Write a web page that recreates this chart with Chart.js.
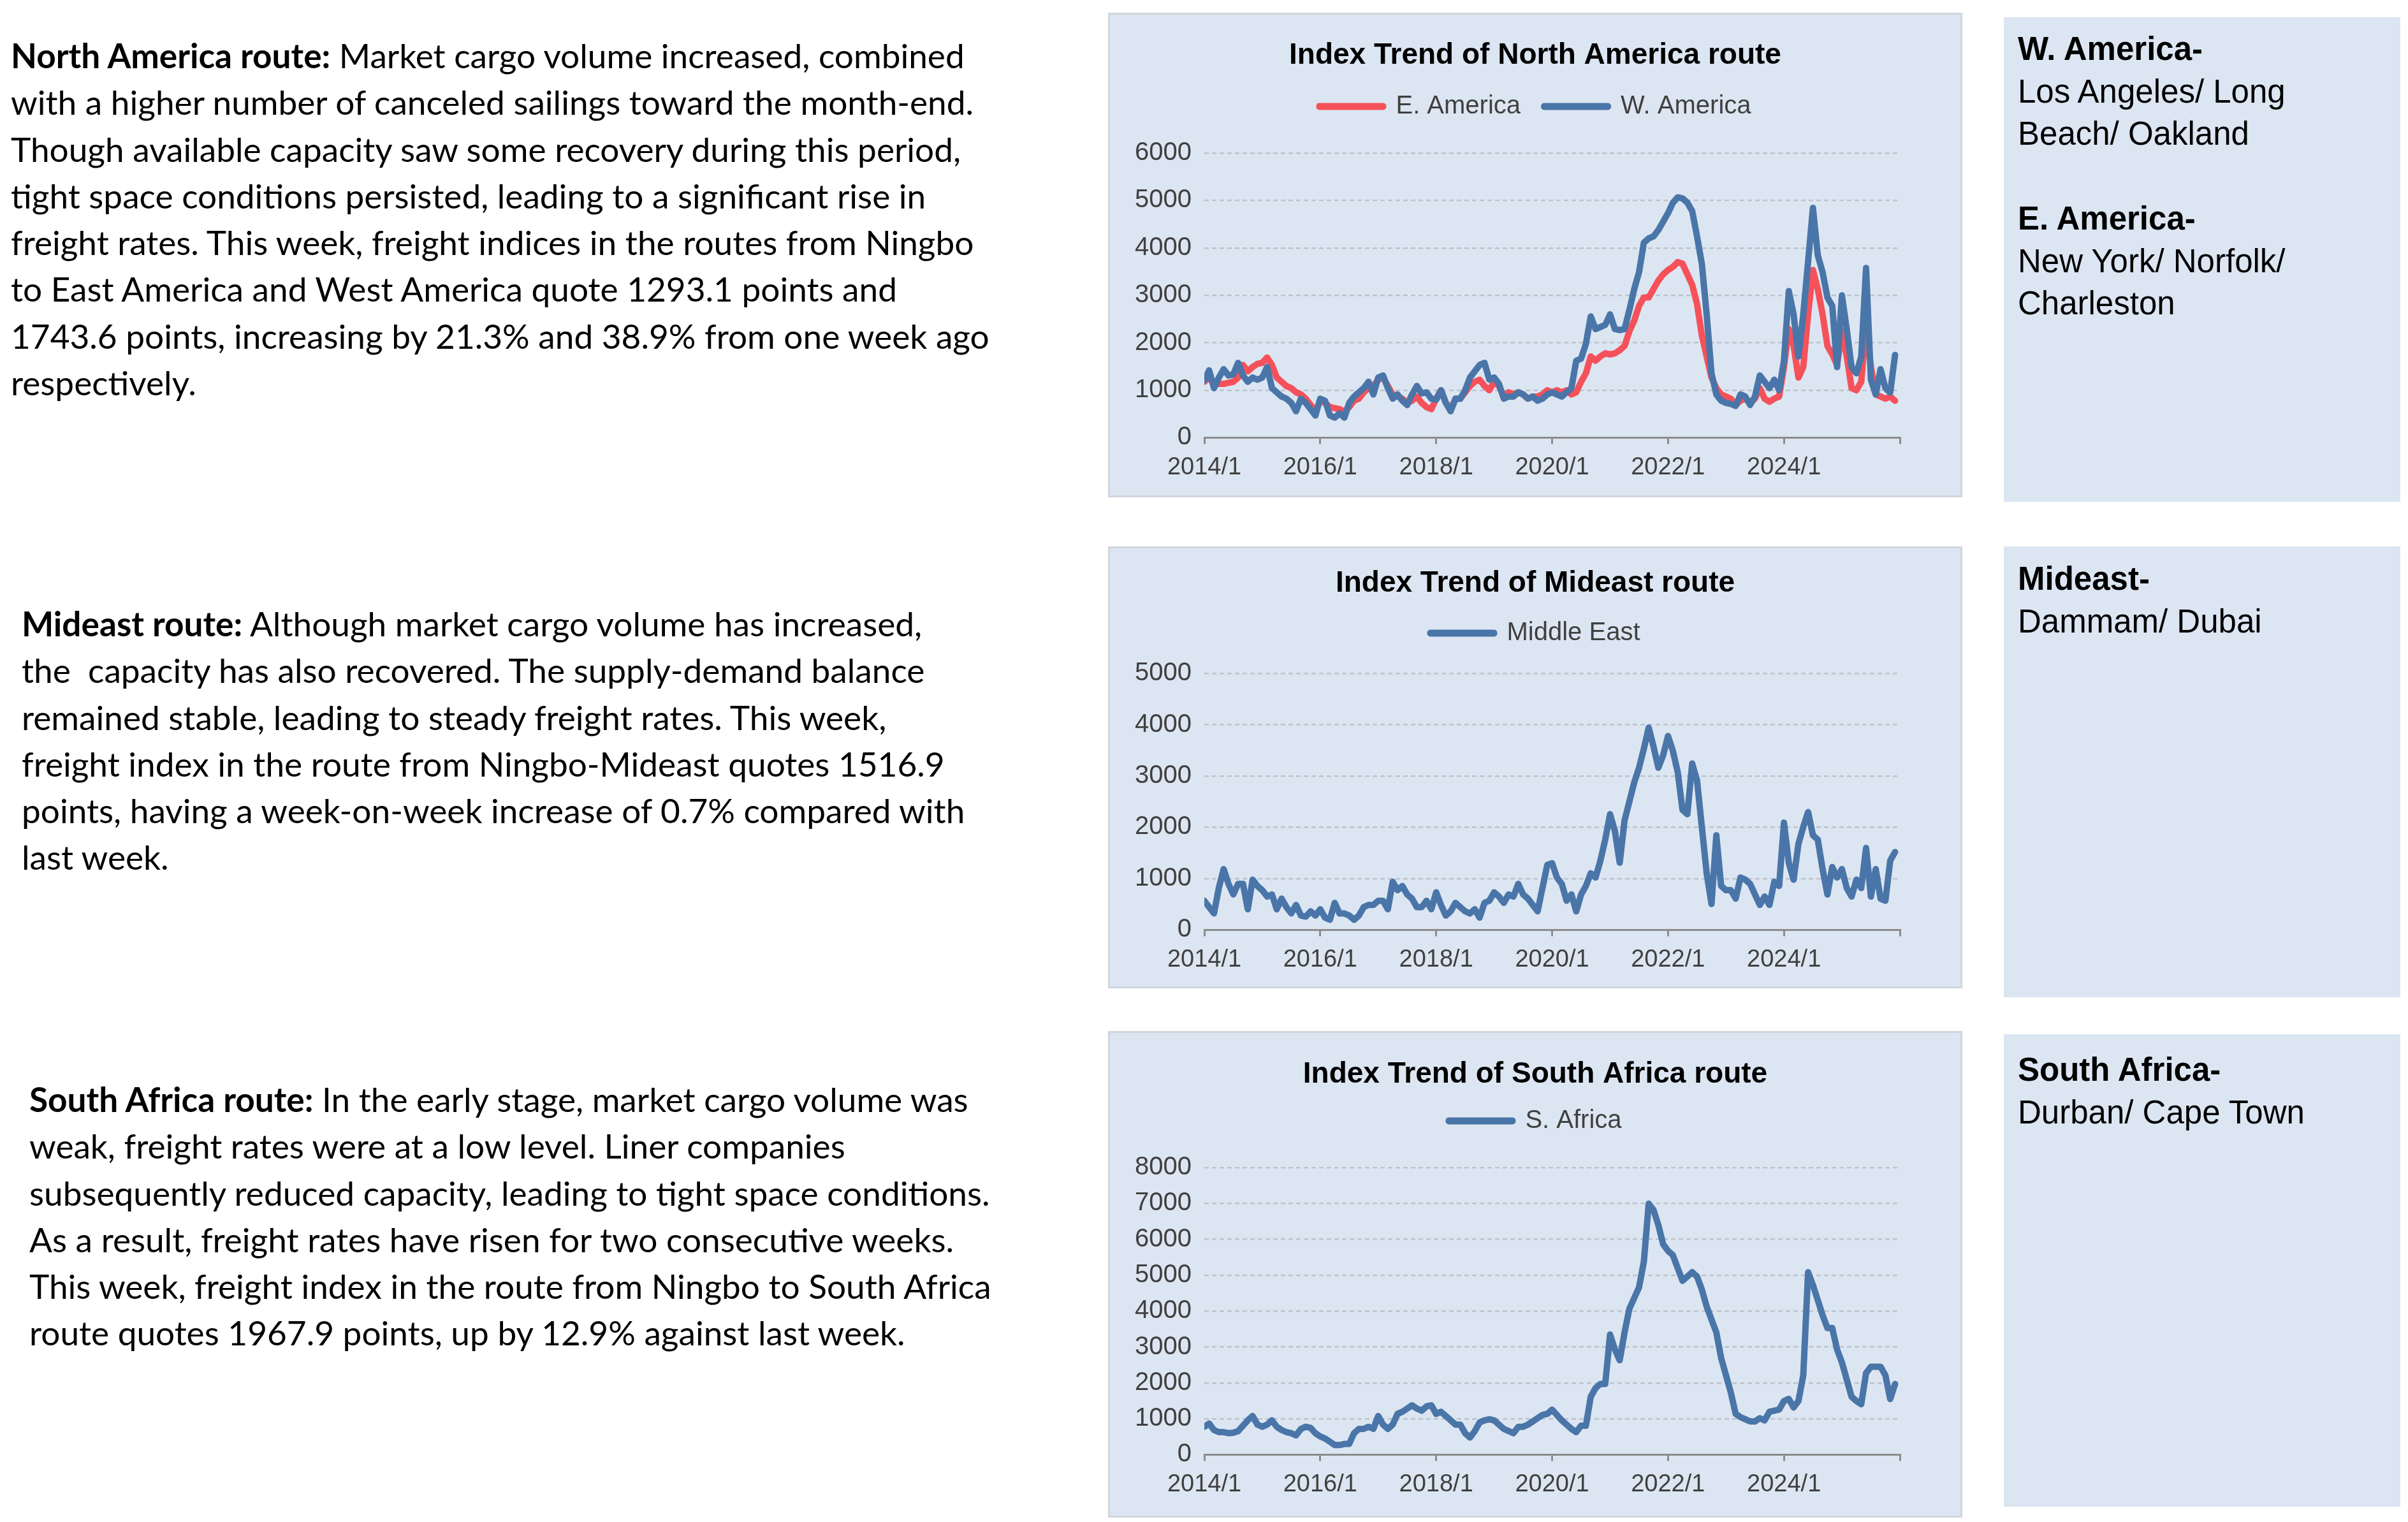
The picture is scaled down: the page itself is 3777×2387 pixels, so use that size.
<!DOCTYPE html>
<html>
<head>
<meta charset="utf-8">
<title>Index Trend of North America, Mideast and South Africa routes</title>
<script src="https://cdn.jsdelivr.net/npm/chart.js@4.4.1/dist/chart.umd.min.js"></script>
<style>
    body {
        margin: 0;
        width: 3777px;
        height: 2387px;
        background: #ffffff;
        position: relative;
        overflow: hidden;
        font-family: Lato, "Noto Sans", sans-serif;
    }
    .note {
        position: absolute;
        white-space: nowrap;
        color: #000;
        font-size: 50px;
        line-height: 73.3px;
    }
    .panel {
        position: absolute;
        left: 1738px;
        width: 1340px;
        background: #dce6f2;
        border: 3px solid #cfd6de;
        box-sizing: border-box;
    }
    .panel .box {
        position: absolute;
        left: 0; top: 0; right: 0; bottom: 0;
    }
    .side {
        position: absolute;
        left: 3143px;
        width: 622px;
        background: #dce6f2;
        box-sizing: border-box;
        padding-left: 22px;
        font-family: "Liberation Sans", Arial, sans-serif;
        font-size: 51px;
        line-height: 66.5px;
        color: #000;
    }
</style>
</head>
<body>
    <div class="note" style="left:17px; top:50px;">
        <span id="fitLine"><b>North America route:</b> Market cargo volume increased, combined</span><br>
        with a higher number of canceled sailings toward the month-end.<br>
        Though available capacity saw some recovery during this period,<br>
        tight space conditions persisted, leading to a significant rise in<br>
        freight rates. This week, freight indices in the routes from Ningbo<br>
        to East America and West America quote 1293.1 points and<br>
        1743.6 points, increasing by 21.3% and 38.9% from one week ago<br>
        respectively.
    </div>
    <div class="note" style="left:34px; top:941px;">
        <b>Mideast route:</b> Although market cargo volume has increased,<br>
        the&nbsp; capacity has also recovered. The supply-demand balance<br>
        remained stable, leading to steady freight rates. This week,<br>
        freight index in the route from Ningbo-Mideast quotes 1516.9<br>
        points, having a week-on-week increase of 0.7% compared with<br>
        last week.
    </div>
    <div class="note" style="left:46px; top:1687px;">
        <b>South Africa route:</b> In the early stage, market cargo volume was<br>
        weak, freight rates were at a low level. Liner companies<br>
        subsequently reduced capacity, leading to tight space conditions.<br>
        As a result, freight rates have risen for two consecutive weeks.<br>
        This week, freight index in the route from Ningbo to South Africa<br>
        route quotes 1967.9 points, up by 12.9% against last week.
    </div>

    <div class="panel" style="top:20px; height:760px;"><div class="box"><canvas id="naChart"></canvas></div></div>
    <div class="panel" style="top:857px; height:693px;"><div class="box"><canvas id="meChart"></canvas></div></div>
    <div class="panel" style="top:1617px; height:763px;"><div class="box"><canvas id="saChart"></canvas></div></div>

    <div class="side" style="top:27px; height:760px; padding-top:17px;">
        <b>W. America-</b><br>Los Angeles/ Long<br>Beach/ Oakland<br><br>
        <b>E. America-</b><br>New York/ Norfolk/<br>Charleston
    </div>
    <div class="side" style="top:857px; height:707px; padding-top:18px;">
        <b>Mideast-</b><br>Dammam/ Dubai
    </div>
    <div class="side" style="top:1622px; height:741px; padding-top:23px;">
        <b>South Africa-</b><br>Durban/ Cape Town
    </div>

<script>
    // monthly readings, 2014/1 .. 2025/12
    const months = [];
    for (let y = 2014; y <= 2025; y++) {
        for (let m = 1; m <= 12; m++) months.push(y + '/' + m);
    }
    const xTickLabels = ['2014/1', '2016/1', '2018/1', '2020/1', '2022/1', '2024/1', ''];

    const wAmerica = [
        1200, 1420, 1044, 1267, 1444, 1311, 1333, 1578, 1311, 1178, 1267, 1222,
        1267, 1489, 1044, 956, 867, 822, 733, 556, 822, 733, 600, 467,
        822, 778, 467, 422, 511, 422, 733, 867, 956, 1044, 1178, 911,
        1267, 1311, 1044, 822, 911, 778, 689, 911, 1089, 933, 956, 822,
        800, 1000, 733, 556, 822, 822, 1000, 1267, 1400, 1533, 1578, 1222,
        1267, 1133, 822, 867, 867, 956, 911, 822, 867, 778, 822, 911,
        956, 911, 867, 956, 1044, 1622, 1667, 1978, 2556, 2289, 2333, 2378,
        2600, 2289, 2267, 2289, 2689, 3133, 3489, 4111, 4200, 4244, 4378, 4556,
        4733, 4950, 5067, 5044, 4956, 4778, 4244, 3667, 2600, 1356, 911, 778,
        733, 711, 667, 911, 867, 689, 867, 1311, 1178, 1044, 1222, 1000,
        1622, 3089, 2600, 1711, 2600, 3711, 4844, 3844, 3489, 2956, 2778, 1489,
        3000, 2289, 1489, 1356, 1711, 3578, 1222, 911, 1444, 1044, 950, 1744
    ];
    const eAmerica = [
        1178, 1267, 1133, 1133, 1133, 1156, 1178, 1267, 1533, 1400, 1489, 1556,
        1578, 1689, 1533, 1267, 1178, 1089, 1044, 956, 911, 822, 689, 556,
        778, 733, 644, 622, 600, 556, 644, 778, 822, 956, 1044, 1089,
        1222, 1267, 1089, 911, 867, 822, 733, 778, 867, 733, 644, 600,
        822, 1000, 733, 600, 822, 822, 956, 1089, 1178, 1222, 1089, 1000,
        1178, 1089, 867, 956, 911, 956, 911, 822, 867, 867, 911, 1000,
        956, 1000, 956, 1000, 911, 956, 1178, 1356, 1711, 1622, 1711, 1778,
        1756, 1778, 1844, 1933, 2244, 2467, 2778, 2956, 2956, 3133, 3311, 3444,
        3533, 3600, 3700, 3667, 3444, 3222, 2822, 2156, 1711, 1267, 1044, 911,
        867, 822, 689, 778, 822, 733, 822, 1044, 822, 756, 822, 867,
        1489, 2289, 1933, 1267, 1489, 2600, 3533, 3133, 2600, 1933, 1756, 1533,
        2244, 1711, 1044, 1000, 1178, 2378, 1489, 911, 867, 822, 867, 778
    ];
    const middleEast = [
        568, 444, 321, 815, 1185, 897, 691, 897, 897, 403, 979, 856,
        774, 650, 691, 403, 609, 444, 321, 486, 280, 259, 362, 280,
        403, 239, 198, 527, 321, 321, 280, 198, 280, 444, 486, 486,
        568, 568, 403, 938, 774, 856, 691, 609, 444, 444, 568, 403,
        733, 486, 280, 362, 527, 444, 362, 321, 403, 239, 527, 568,
        733, 650, 527, 691, 650, 897, 691, 609, 486, 362, 815, 1267,
        1300, 1021, 897, 568, 691, 362, 691, 856, 1103, 1021, 1350, 1761,
        2255, 1926, 1309, 2132, 2502, 2872, 3160, 3531, 3942, 3572, 3160, 3407,
        3778, 3490, 3078, 2337, 2255, 3243, 2914, 2008, 1103, 506, 1844, 856,
        774, 774, 609, 1021, 979, 897, 691, 486, 650, 486, 938, 856,
        2091, 1309, 979, 1679, 2008, 2296, 1844, 1761, 1185, 691, 1226, 1021,
        1185, 815, 650, 979, 815, 1597, 650, 1185, 609, 568, 1350, 1517
    ];
    const southAfrica = [
        777, 867, 687, 628, 628, 598, 610, 657, 807, 956, 1076, 837,
        777, 837, 956, 777, 687, 628, 598, 538, 717, 777, 747, 598,
        508, 448, 359, 269, 269, 299, 299, 598, 717, 717, 777, 717,
        1076, 837, 717, 837, 1136, 1195, 1285, 1375, 1285, 1225, 1345, 1375,
        1136, 1195, 1076, 956, 837, 837, 598, 478, 657, 897, 956, 986,
        956, 837, 717, 657, 598, 777, 777, 837, 926, 1016, 1106, 1136,
        1255, 1106, 956, 837, 717, 628, 807, 807, 1614, 1853, 1972, 1972,
        3347, 2929, 2630, 3407, 4065, 4363, 4662, 5380, 6993, 6814, 6396, 5858,
        5679, 5559, 5200, 4842, 4961, 5081, 4961, 4602, 4124, 3766, 3407, 2690,
        2212, 1733, 1136, 1046, 986, 926, 926, 1016, 956, 1195, 1225, 1255,
        1494, 1554, 1315, 1494, 2212, 5081, 4722, 4304, 3885, 3527, 3527, 2929,
        2570, 2092, 1614, 1494, 1405, 2271, 2451, 2451, 2451, 2212, 1550, 1968
    ];

    const BLUE = '#4a75a8';
    const RED = '#f5515a';
    const FONT = 'Liberation Sans';

    function toPoints(values) {
        return values.map((v, i) => {
            const [y, m] = months[i].split('/').map(Number);
            return { x: y + (m - 1) / 12, y: v };
        });
    }

    function series(label, values, color) {
        return {
            label: label,
            data: toPoints(values),
            borderColor: color,
            backgroundColor: color,
            borderWidth: 10,
            borderJoinStyle: 'round',
            borderCapStyle: 'round',
            pointRadius: 0,
            tension: 0
        };
    }

    function makeChart(id, title, datasets, yMax, lay) {
        return new Chart(document.getElementById(id), {
            type: 'line',
            data: { datasets: datasets },
            options: {
                responsive: true,
                maintainAspectRatio: false,
                animation: false,
                devicePixelRatio: 1,
                layout: { padding: { left: 0, right: 0, top: 0, bottom: lay.bottom } },
                plugins: {
                    title: {
                        display: true,
                        text: title,
                        color: '#000',
                        font: { family: FONT, size: 46, weight: 'bold', lineHeight: 1 },
                        padding: { top: lay.titleTop, bottom: 0 }
                    },
                    // empty subtitle used as a spacer between legend and plot
                    subtitle: {
                        display: true,
                        text: '',
                        weight: 500,
                        font: { size: 1, lineHeight: 1 },
                        padding: { top: lay.gap - 1, bottom: 0 }
                    },
                    legend: {
                        labels: {
                            color: '#404040',
                            font: { family: FONT, size: 40 },
                            boxWidth: 100,
                            boxHeight: 1,
                            padding: lay.legendPad,
                            sort: (a, b) => b.datasetIndex - a.datasetIndex
                        }
                    },
                    tooltip: { enabled: false }
                },
                scales: {
                    x: {
                        type: 'linear',
                        min: 2014,
                        max: 2026,
                        ticks: {
                            stepSize: 2,
                            autoSkip: false,
                            maxRotation: 0,
                            padding: 14,
                            color: '#404040',
                            font: { family: FONT, size: 38 },
                            callback: (v) => xTickLabels[(v - 2014) / 2]
                        },
                        grid: { drawOnChartArea: false, drawTicks: true, tickLength: 10, color: '#8c8c8c', lineWidth: 3 },
                        border: { display: true, color: '#8c8c8c', width: 3 }
                    },
                    y: {
                        min: 0,
                        max: yMax,
                        afterFit: (scale) => { scale.width = 148; },
                        ticks: {
                            stepSize: 1000,
                            padding: 20,
                            color: '#404040',
                            font: { family: FONT, size: 40 },
                            callback: (v) => String(v)
                        },
                        grid: { drawTicks: false, color: '#bcc3cc', lineWidth: 2.5 },
                        border: { display: false, dash: [7, 5] }
                    },
                    // blank right-hand axis that keeps the margin on the right
                    pad: {
                        position: 'right',
                        afterFit: (scale) => { scale.width = 95; },
                        ticks: { display: false },
                        grid: { display: false },
                        border: { display: false }
                    }
                }
            }
        });
    }

    function fitNotes() {
        const w = document.getElementById('fitLine').getBoundingClientRect().width;
        const size = 50 * 1496 / w;
        document.querySelectorAll('.note').forEach(n => { n.style.fontSize = size + 'px'; });
    }

    fitNotes();

    makeChart('naChart', 'Index Trend of North America route',
        [series('W. America', wAmerica, BLUE), series('E. America', eAmerica, RED)],
        6000, { titleTop: 41, legendPad: 37, gap: 43, bottom: 7 });

    makeChart('meChart', 'Index Trend of Mideast route',
        [series('Middle East', middleEast, BLUE)],
        5000, { titleTop: 32, legendPad: 35, gap: 33, bottom: 5 });

    makeChart('saChart', 'Index Trend of South Africa route',
        [series('S. Africa', southAfrica, BLUE)],
        8000, { titleTop: 42, legendPad: 30, gap: 43, bottom: 12 });
</script>
</body>
</html>
